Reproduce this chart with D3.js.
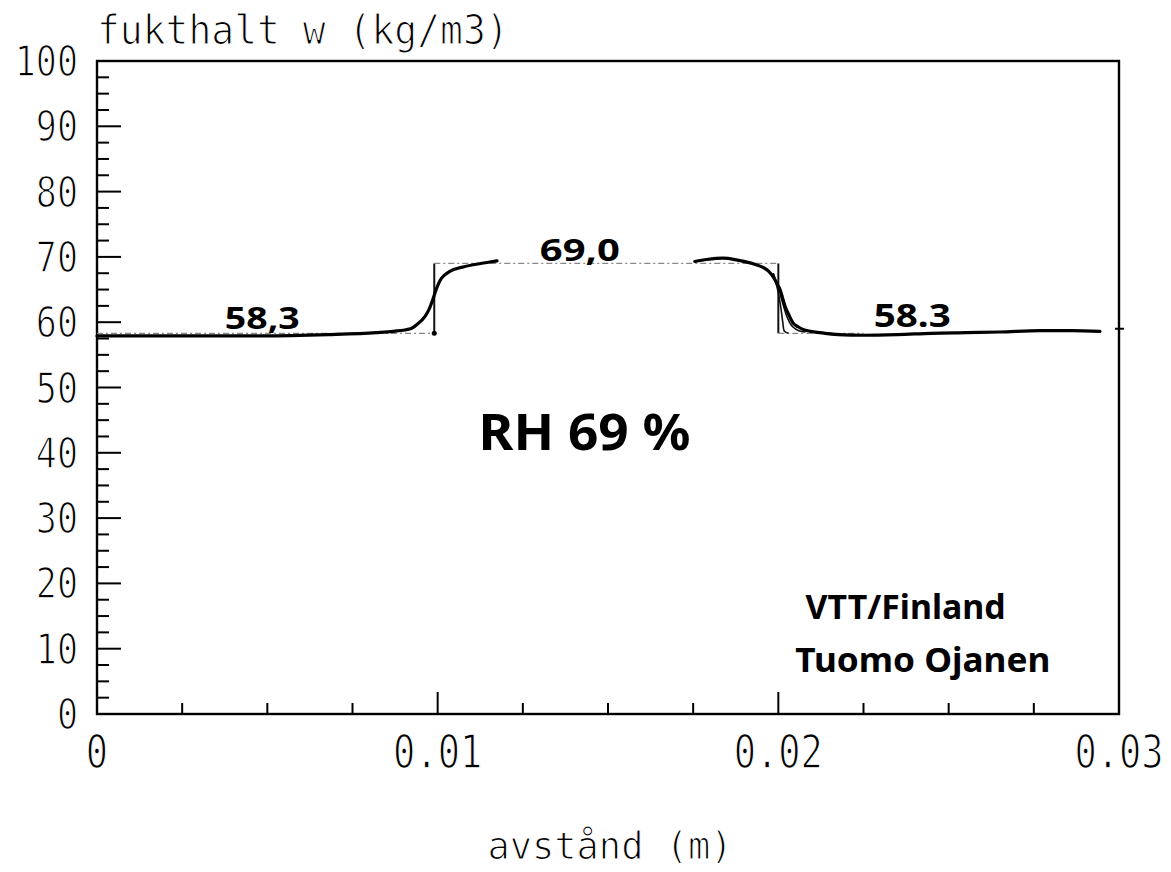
<!DOCTYPE html>
<html>
<head>
<meta charset="utf-8">
<script src="https://cdn.jsdelivr.net/npm/d3@7"></script>
<style>
  html, body { margin: 0; padding: 0; background: #fff; }
  svg { display: block; }
</style>
</head>
<body>
<svg id="chart" width="1171" height="872"></svg>
<script>
// ---- data ----
const xTickValues = [0, 0.01, 0.02, 0.03];
const xTickLabels = ["0", "0.01", "0.02", "0.03"];
const yTickValues = [0, 10, 20, 30, 40, 50, 60, 70, 80, 90, 100];
const yTickLabels = ["0", "10", "20", "30", "40", "50", "60", "70", "80", "90", "100"];
const xMinorStep = 0.0025;
const yMinorStep = 2.5;

const yTitle = "fukthalt w (kg/m3)";
const xTitle = "avstånd (m)";

// final moisture profile (thick line), left and right parts
const leftX = [0, 0.002, 0.0048, 0.0068, 0.0082, 0.0087, 0.0092, 0.0094, 0.00963, 0.00975, 0.00986, 0.00997, 0.01007, 0.0102, 0.01036, 0.0107, 0.01104, 0.0114, 0.01174];
const leftW = [57.9, 57.9, 57.9, 58.1, 58.4, 58.6, 59.0, 59.7, 60.9, 62.0, 63.5, 65.2, 66.4, 67.2, 67.8, 68.4, 68.8, 69.1, 69.4];
const rightX = [0.01755, 0.0179, 0.01838, 0.0188, 0.01908, 0.01935, 0.01955, 0.01972, 0.01984, 0.01995, 0.02005, 0.02012, 0.0202, 0.02032, 0.02043, 0.02058, 0.02072, 0.02095, 0.02122, 0.02175, 0.0225, 0.0235, 0.0245, 0.0255, 0.0265, 0.0277, 0.0286, 0.02944];
const rightW = [69.3, 69.6, 69.8, 69.5, 69.2, 68.8, 68.4, 67.8, 67.0, 66.0, 65.0, 63.8, 62.4, 61.0, 59.9, 59.3, 58.9, 58.6, 58.4, 58.1, 58.0, 58.1, 58.3, 58.4, 58.5, 58.7, 58.7, 58.6];

// initial step profile (thin)
const stepX = [0, 0.0099, 0.0099, 0.02, 0.02, 0.0225];
const stepW = [58.3, 58.3, 69.0, 69.0, 58.3, 58.3];

// intermediate thin profiles near the right step
const thinAX = [0.01985, 0.02, 0.02008, 0.02013, 0.02018, 0.0203];
const thinAW = [67.5, 64.5, 62.0, 60.0, 58.6, 58.3];
const thinBX = [0.01985, 0.02003, 0.02015, 0.02028, 0.02042, 0.0206, 0.0208];
const thinBW = [67.5, 64.8, 62.5, 60.5, 59.3, 58.7, 58.5];

// handwritten notes: text, data x, data y (baseline)
const noteTexts = ["58,3", "69,0", "58.3", "RH 69 %", "VTT/Finland", "Tuomo Ojanen"];
const noteX = [0.00375, 0.0130, 0.0228, 0.0112, 0.0208, 0.0205];
const noteW = [58.9, 69.4, 59.2, 40.5, 14.5, 6.4];
const noteLen = [75, 80, 77, 212, 200, 255];
const noteSize = [30, 30, 32, 50, 34, 34];

const rightMarkW = 59.0;

// ---- layout ----
const svg = d3.select("#chart");
const M = { left: 97, right: 1119, top: 61, bottom: 714 };
const x = d3.scaleLinear().domain([0, 0.03]).range([M.left, M.right]);
const y = d3.scaleLinear().domain([0, 100]).range([M.bottom, M.top]);

const mono = "'DejaVu Sans Mono', 'Liberation Mono', monospace";
// thin the plotter-like glyphs by eroding edges with a white outline
function plotterText(sel) {
  sel.attr("font-family", mono).attr("fill", "#000")
    .attr("stroke", "#fff").attr("stroke-width", 1.1);
}

// frame
svg.append("rect")
  .attr("x", M.left).attr("y", M.top)
  .attr("width", M.right - M.left).attr("height", M.bottom - M.top)
  .attr("fill", "none").attr("stroke", "#000").attr("stroke-width", 2.4);

// y ticks (inward)
const yMinor = d3.range(0, 100 + 1e-9, yMinorStep).filter(v => Math.abs(v % 10) > 1e-6 && Math.abs(v % 10 - 10) > 1e-6);
svg.append("g").selectAll("line").data(yMinor).join("line")
  .attr("x1", M.left).attr("x2", M.left + 12)
  .attr("y1", d => y(d)).attr("y2", d => y(d))
  .attr("stroke", "#000").attr("stroke-width", 2);
svg.append("g").selectAll("line").data(yTickValues.filter(v => v > 0 && v < 100)).join("line")
  .attr("x1", M.left).attr("x2", M.left + 24)
  .attr("y1", d => y(d)).attr("y2", d => y(d))
  .attr("stroke", "#000").attr("stroke-width", 2);

// x ticks (inward)
const xMinor = d3.range(xMinorStep, 0.03 - 1e-9, xMinorStep).filter(v => Math.abs(Math.round(v / 0.01) * 0.01 - v) > 1e-9);
svg.append("g").selectAll("line").data(xMinor).join("line")
  .attr("x1", d => x(d)).attr("x2", d => x(d))
  .attr("y1", M.bottom).attr("y2", M.bottom - 11)
  .attr("stroke", "#000").attr("stroke-width", 2);
svg.append("g").selectAll("line").data(xTickValues.filter(v => v > 0 && v < 0.03)).join("line")
  .attr("x1", d => x(d)).attr("x2", d => x(d))
  .attr("y1", M.bottom).attr("y2", M.bottom - 22)
  .attr("stroke", "#000").attr("stroke-width", 2);

// y tick labels
svg.append("g").selectAll("text").data(yTickValues).join("text")
  .attr("transform", (d) => `translate(${M.left - 19},${y(d) + 15}) scale(1,1.2)`)
  .attr("text-anchor", "end")
  .attr("font-size", 35)
  .call(plotterText)
  .text((d, i) => yTickLabels[i]);

// x tick labels
svg.append("g").selectAll("text").data(xTickValues).join("text")
  .attr("transform", (d) => `translate(${x(d)},${M.bottom + 54}) scale(1,1.25)`)
  .attr("text-anchor", "middle")
  .attr("font-size", 37)
  .call(plotterText)
  .text((d, i) => xTickLabels[i]);

// axis titles
svg.append("text")
  .attr("transform", `translate(${M.left},44) scale(1,1.08)`)
  .attr("font-size", 38)
  .call(plotterText)
  .text(yTitle);
svg.append("text")
  .attr("transform", `translate(${(M.left + M.right) / 2 + 2},859)`)
  .attr("text-anchor", "middle")
  .attr("font-size", 37)
  .call(plotterText)
  .text(xTitle);

// initial step profile: horizontals dotted, verticals solid
const stepPts = stepX.map((v, i) => [v, stepW[i]]);
for (let i = 0; i < stepPts.length - 1; i++) {
  const a = stepPts[i], b = stepPts[i + 1];
  const vertical = a[0] === b[0];
  svg.append("line")
    .attr("x1", x(a[0])).attr("y1", y(a[1]))
    .attr("x2", x(b[0])).attr("y2", y(b[1]))
    .attr("stroke", vertical ? "#111" : "#888")
    .attr("stroke-width", vertical ? 2 : 1.2)
    .attr("stroke-dasharray", vertical ? null : "6,3,2,3");
}

const line = d3.line().x(d => x(d[0])).y(d => y(d[1])).curve(d3.curveMonotoneX);
const lineFree = d3.line().x(d => x(d[0])).y(d => y(d[1])).curve(d3.curveCatmullRom.alpha(0.5));

// thin intermediate profiles
[[thinAX, thinAW], [thinBX, thinBW]].forEach(([xs, ws]) => {
  svg.append("path")
    .attr("d", lineFree(xs.map((v, i) => [v, ws[i]])))
    .attr("fill", "none").attr("stroke", "#111").attr("stroke-width", 1.6);
});

// thick final profile
[[leftX, leftW], [rightX, rightW]].forEach(([xs, ws]) => {
  svg.append("path")
    .attr("d", line(xs.map((v, i) => [v, ws[i]])))
    .attr("fill", "none").attr("stroke", "#000").attr("stroke-width", 3.2)
    .attr("stroke-linecap", "round").attr("stroke-linejoin", "round");
});

// small dot at bottom of left step
svg.append("circle").attr("cx", x(stepX[1])).attr("cy", y(stepW[1])).attr("r", 2.5).attr("fill", "#000");

// mark on right axis
svg.append("line")
  .attr("x1", M.right - 4).attr("x2", M.right + 5)
  .attr("y1", y(rightMarkW)).attr("y2", y(rightMarkW))
  .attr("stroke", "#000").attr("stroke-width", 2);

// handwritten notes
svg.append("g").selectAll("text").data(noteTexts).join("text")
  .attr("x", (d, i) => x(noteX[i]))
  .attr("y", (d, i) => y(noteW[i]))
  .attr("font-family", "'Noto Sans', 'Open Sans', sans-serif")
  .attr("font-weight", 700)
  .attr("font-size", (d, i) => noteSize[i])
  .attr("textLength", (d, i) => noteLen[i])
  .attr("lengthAdjust", "spacingAndGlyphs")
  .attr("fill", "#000")
  .text(d => d);
</script>
</body>
</html>
